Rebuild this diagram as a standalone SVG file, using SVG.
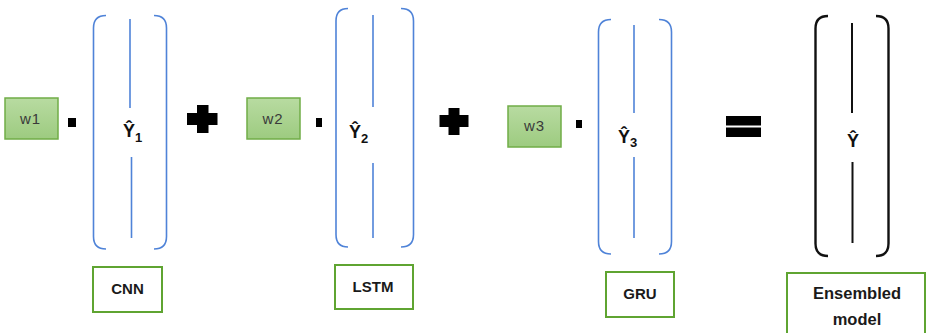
<svg xmlns="http://www.w3.org/2000/svg" width="927" height="333" viewBox="0 0 927 333">
  <defs>
    <linearGradient id="wfill" x1="0" y1="0" x2="0" y2="1">
      <stop offset="0" stop-color="#b8dba1"/>
      <stop offset="1" stop-color="#9dcb80"/>
    </linearGradient>
  </defs>
  <style>
    .weight { fill: url(#wfill); stroke: #70ad47; stroke-width: 1.5; }
    .wtext { font-family: "Liberation Sans", Arial, sans-serif; font-size: 15px; letter-spacing: 1px; fill: #3a3a3a; text-anchor: middle; }
    .label { fill: #ffffff; stroke: #5fa431; stroke-width: 2; }
    .ltext { font-family: "Liberation Sans", Arial, sans-serif; font-size: 15px; font-weight: bold; fill: #1a1a1a; text-anchor: middle; }
    .br { fill: none; stroke: #4f83d8; stroke-width: 1.6; }
    .vl { stroke: #4f83d8; stroke-width: 1.6; }
    .br-k { fill: none; stroke: #111111; stroke-width: 2.4; }
    .vl-k { stroke: #111111; stroke-width: 2; }
    .yhat { font-family: "Liberation Sans", Arial, sans-serif; font-size: 18px; font-weight: bold; fill: #111111; }
    .sub { font-size: 13px; font-weight: bold; }
    .op { fill: #000000; }
  </style>

  <!-- CNN term -->
  <g id="w1">
    <rect class="weight" x="5" y="98" width="53" height="41"/>
    <text class="wtext" x="30.5" y="123.5">w1</text>
  </g>
  <rect class="op" x="68" y="118" width="8" height="9"/>
  <g id="y1">
    <path class="br" d="M106,15.5 Q93.5,15.5 93.5,28 V236.5 Q93.5,249 106,249"/>
    <path class="br" d="M154,15.5 Q166.5,15.5 166.5,28 V236.5 Q166.5,249 154,249"/>
    <line class="vl" x1="130" y1="19" x2="130" y2="108"/>
    <line class="vl" x1="131.5" y1="157" x2="131.5" y2="238"/>
    <text class="yhat" x="123" y="137">Ŷ<tspan class="sub" dy="5">1</tspan></text>
  </g>
  <g id="cnn">
    <rect class="label" x="93" y="267" width="69" height="45"/>
    <text class="ltext" x="127.5" y="293.5">CNN</text>
  </g>
  <path class="op" d="M187,113 H197 V105 H208.5 V113 H217.5 V125 H208.5 V133 H197 V125 H187 Z"/>

  <!-- LSTM term -->
  <g id="w2">
    <rect class="weight" x="247" y="98" width="53" height="41"/>
    <text class="wtext" x="273" y="123.5">w2</text>
  </g>
  <rect class="op" x="316" y="118" width="6" height="9"/>
  <g id="y2">
    <path class="br" d="M348,8.5 Q336,8.5 336,21 V234.5 Q336,247 348,247"/>
    <path class="br" d="M401,8.5 Q413.5,8.5 413.5,21 V234.5 Q413.5,247 401,247"/>
    <line class="vl" x1="373" y1="15" x2="373" y2="107"/>
    <line class="vl" x1="373" y1="163" x2="373" y2="238"/>
    <text class="yhat" x="349" y="138">Ŷ<tspan class="sub" dy="5">2</tspan></text>
  </g>
  <g id="lstm">
    <rect class="label" x="335" y="265" width="78" height="44"/>
    <text class="ltext" x="373" y="292">LSTM</text>
  </g>
  <path class="op" d="M439.5,115 H448.5 V108 H459.5 V115 H468.5 V127 H459.5 V135 H448.5 V127 H439.5 Z"/>

  <!-- GRU term -->
  <g id="w3">
    <rect class="weight" x="508" y="106" width="53" height="41"/>
    <text class="wtext" x="534.5" y="130.5">w3</text>
  </g>
  <rect class="op" x="576" y="120" width="6" height="8"/>
  <g id="y3">
    <path class="br" d="M611,19.5 Q598.5,19.5 598.5,32 V241.5 Q598.5,254 611,254"/>
    <path class="br" d="M659,19.5 Q671.5,19.5 671.5,32 V241.5 Q671.5,254 659,254"/>
    <line class="vl" x1="634" y1="25" x2="634" y2="113"/>
    <line class="vl" x1="634" y1="157" x2="634" y2="238"/>
    <text class="yhat" x="618" y="143">Ŷ<tspan class="sub" dy="4">3</tspan></text>
  </g>
  <g id="gru">
    <rect class="label" x="606" y="272" width="68" height="45"/>
    <text class="ltext" x="640" y="298.5">GRU</text>
  </g>

  <!-- equals sign -->
  <rect class="op" x="726" y="116" width="35" height="9.5"/>
  <rect class="op" x="726" y="127.5" width="35" height="9.5"/>

  <!-- ensembled output -->
  <g id="y">
    <path class="br-k" d="M828,16 Q815.5,16 815.5,28.5 V243.5 Q815.5,256 828,256"/>
    <path class="br-k" d="M876,16 Q888.5,16 888.5,28.5 V243.5 Q888.5,256 876,256"/>
    <line class="vl-k" x1="852" y1="23" x2="852" y2="113"/>
    <line class="vl-k" x1="852.5" y1="162" x2="852.5" y2="243"/>
    <text class="yhat" x="853" y="147" text-anchor="middle">Ŷ</text>
  </g>
  <g id="ensembled">
    <rect class="label" x="787" y="273" width="138" height="70"/>
    <text class="ltext" x="857" y="299" style="font-size:16.5px">Ensembled</text>
    <text class="ltext" x="857" y="325" style="font-size:16.5px">model</text>
  </g>
</svg>
